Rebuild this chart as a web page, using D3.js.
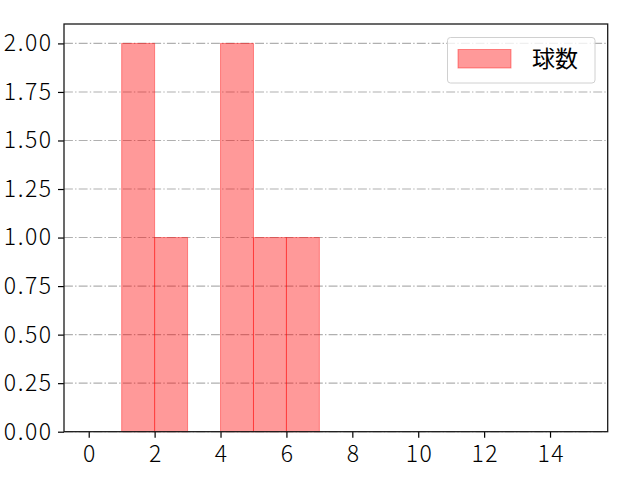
<!DOCTYPE html>
<html><head><meta charset="utf-8">
<script src="https://cdn.jsdelivr.net/npm/d3@7"></script>
<style>body{margin:0;background:#fff}</style>
</head><body>
<svg id="c" width="640" height="480"></svg>
<script>
const binStarts = [1, 2, 4, 5, 6];
const binEnds = [2, 3, 5, 6, 7];
const counts = [2, 1, 2, 1, 1];
const seriesName = "球数";
const xTicks = [0, 2, 4, 6, 8, 10, 12, 14];
const yTicks = [0, 0.25, 0.5, 0.75, 1.0, 1.25, 1.5, 1.75, 2.0];

const L = 64, R = 607.7, T = 24, B = 431.7;
const font = "'Noto Sans CJK JP', 'DejaVu Sans', sans-serif";
const svg = d3.select("#c");
const x = d3.scaleLinear().domain([-0.75, 15.75]).range([L, R]);
const y = d3.scaleLinear().domain([0, 2.1]).range([B, T]);

// grid
svg.append("g").selectAll("line").data(yTicks).join("line")
  .attr("x1", L).attr("x2", R)
  .attr("y1", d => y(d)).attr("y2", d => y(d))
  .attr("stroke", "#b0b0b0").attr("stroke-width", 1.1)
  .attr("stroke-dasharray", "8.9,2.2,1.4,2.2");

// bars
svg.append("g").selectAll("rect").data(counts).join("rect")
  .attr("x", (d, i) => x(binStarts[i]))
  .attr("width", (d, i) => x(binEnds[i]) - x(binStarts[i]))
  .attr("y", d => y(d))
  .attr("height", d => y(0) - y(d))
  .attr("fill", "rgba(255,0,0,0.4)")
  .attr("stroke", "rgba(255,0,0,0.4)")
  .attr("stroke-width", 1);

// axes
const xAxis = d3.axisBottom(x).tickValues(xTicks).tickSize(6).tickPadding(8).tickFormat(d3.format("d"));
const yAxis = d3.axisLeft(y).tickValues(yTicks).tickSize(6).tickPadding(7).tickFormat(d3.format(".2f"));
const gx = svg.append("g").attr("transform", `translate(0,${B})`).call(xAxis);
const gy = svg.append("g").attr("transform", `translate(${L},0)`).call(yAxis);
[gx, gy].forEach(g => {
  g.select(".domain").remove();
  g.selectAll("line").attr("stroke", "#000").attr("stroke-width", 1.2);
  g.selectAll("text").attr("font-family", font).attr("font-size", 23)
    .attr("font-weight", 300).attr("letter-spacing", 1.5).attr("fill", "#000");
});
gy.selectAll("text").attr("dx", 1.5);
gx.selectAll("text").attr("dx", 0.75);

// frame
svg.append("rect").attr("x", L).attr("y", T).attr("width", R - L).attr("height", B - T)
  .attr("fill", "none").attr("stroke", "#1a1a1a").attr("stroke-width", 1.3);

// legend
const lg = svg.append("g");
lg.append("rect").attr("x", 447.5).attr("y", 37.5).attr("width", 147.5).attr("height", 45.5)
  .attr("rx", 3).attr("fill", "rgba(255,255,255,0.8)").attr("stroke", "#d0d0d0").attr("stroke-width", 1);
lg.append("rect").attr("x", 458).attr("y", 49.5).attr("width", 53).attr("height", 18.5)
  .attr("fill", "rgba(255,0,0,0.4)").attr("stroke", "rgba(255,0,0,0.4)");
lg.append("text").attr("x", 532).attr("y", 67).text(seriesName)
  .attr("font-family", font).attr("font-size", 23).attr("font-weight", 400).attr("fill", "#000");
</script>
</body></html>
